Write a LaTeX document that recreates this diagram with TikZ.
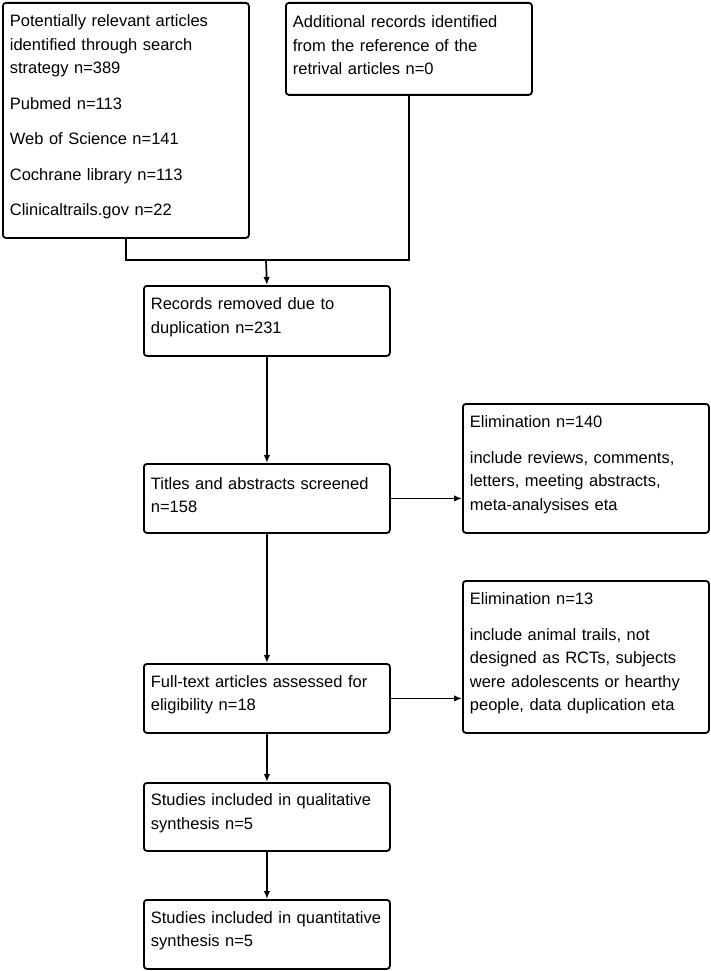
\documentclass[tikz,border=0pt]{standalone}
\usepackage{fontspec}
\setmainfont{Liberation Sans}
\usetikzlibrary{arrows.meta}

\begin{document}
\begin{tikzpicture}[x=1pt,y=-1pt,
    arr/.style={-{Latex[length=8pt,width=6.5pt]},line width=1.7pt}]
\useasboundingbox (0,0) rectangle (711,971);
\begin{scope}[every node/.style={draw,line width=1.8pt,rounded corners=3pt,
              anchor=north west,text width=232pt,inner xsep=7pt,align=left,
              font=\fontsize{16.5}{23.5}\selectfont,
              execute at end node={\endgraf\kern7pt}}]
    \node[minimum height=235pt] (srch) at (2,2)
        {Potentially relevant articles\\ identified through search\\ strategy n=389\\[12pt]
         Pubmed n=113\\[12pt] Web of Science n=141\\[12pt]
         Cochrane library n=113\\[12pt] Clinicaltrails.gov n=22};
    \node[minimum height=92pt]  (addl) at (285,2)
        {Additional records identified\\ from the reference of the\\ retrival articles n=0};
    \node[minimum height=70pt]  (dup)   at (143,285) {Records removed due to\\ duplication n=231};
    \node[minimum height=69pt]  (scr)   at (143,463) {Titles and abstracts screened\\ n=158};
    \node[minimum height=129pt] (exc1)  at (462,403)
        {Elimination n=140\\[12pt] include reviews, comments,\\ letters, meeting abstracts,\\ meta-analysises eta};
    \node[minimum height=69pt]  (full)  at (143,663) {Full-text articles assessed for\\ eligibility n=18};
    \node[minimum height=152pt] (exc2)  at (462,580)
        {Elimination n=13\\[12pt] include animal trails, not\\ designed as RCTs, subjects\\ were adolescents or hearthy\\ people, data duplication eta};
    \node[minimum height=68pt]  (qual)  at (143,782) {Studies included in qualitative\\ synthesis n=5};
    \node[minimum height=69pt]  (quant) at (143,899) {Studies included in quantitative\\ synthesis n=5};
\end{scope}

\coordinate (mrg) at (266,260);
\draw[line width=1.7pt] (srch.south) |- (mrg) -| (addl.south);
\draw[arr] (mrg) -- (dup.north);
\draw[arr] (dup) -- (scr);
\draw[arr] (scr.east) -- (scr.east -| exc1.west);
\draw[arr] (scr) -- (full);
\draw[arr] (full.east) -- (full.east -| exc2.west);
\draw[arr] (full) -- (qual);
\draw[arr] (qual) -- (quant);
\end{tikzpicture}
\end{document}
